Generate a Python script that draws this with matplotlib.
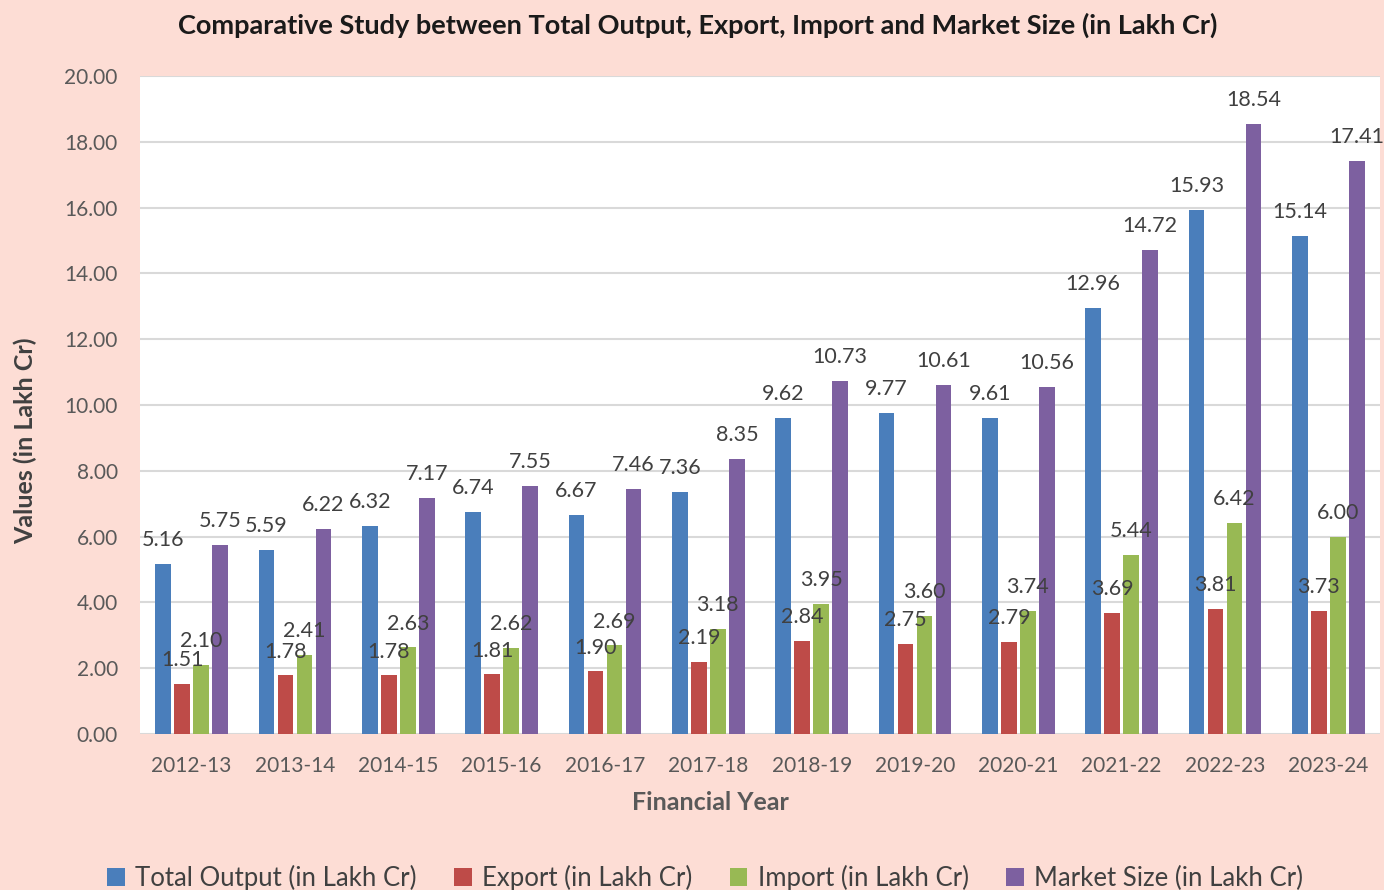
import numpy as np
import matplotlib.pyplot as plt

plt.rcParams['font.family'] = ['Lato', 'DejaVu Sans']

years = ['2012-13', '2013-14', '2014-15', '2015-16', '2016-17', '2017-18',
         '2018-19', '2019-20', '2020-21', '2021-22', '2022-23', '2023-24']
total_output = [5.16, 5.59, 6.32, 6.74, 6.67, 7.36, 9.62, 9.77, 9.61, 12.96, 15.93, 15.14]
export = [1.51, 1.78, 1.78, 1.81, 1.90, 2.19, 2.84, 2.75, 2.79, 3.69, 3.81, 3.73]
imports = [2.10, 2.41, 2.63, 2.62, 2.69, 3.18, 3.95, 3.60, 3.74, 5.44, 6.42, 6.00]
market_size = [5.75, 6.22, 7.17, 7.55, 7.46, 8.35, 10.73, 10.61, 10.56, 14.72, 18.54, 17.41]

series = [
    ('Total Output (in Lakh Cr)', total_output, '#4A7EBB'),
    ('Export (in Lakh Cr)', export, '#BE4B48'),
    ('Import (in Lakh Cr)', imports, '#98B954'),
    ('Market Size (in Lakh Cr)', market_size, '#7D60A0'),
]

bg = '#FDDDD5'
txt = '#404040'

fig = plt.figure(figsize=(13.84, 8.9), dpi=100, facecolor=bg)
ax = fig.add_axes([140 / 1384, 156 / 890, 1240 / 1384, 658 / 890])
ax.set_facecolor('white')

x = np.arange(len(years))
pitch = 0.184
width = 0.15
for i, (name, vals, color) in enumerate(series):
    pos = x + (i - 1.5) * pitch
    ax.bar(pos, vals, width, color=color, label=name, zorder=3)
    for px, v in zip(pos, vals):
        ax.annotate(f'{v:.2f}', (px, v), xytext=(0, 10), textcoords='offset points',
                    ha='center', va='bottom', fontsize=15.5, color=txt,
                    annotation_clip=False, zorder=4)

ax.set_xlim(-0.5, len(years) - 0.5)
ax.set_ylim(0, 20)
ax.set_yticks(np.arange(0, 21, 2))
ax.set_yticklabels([f'{t:.2f}' for t in np.arange(0, 21, 2)])
ax.set_xticks(x)
ax.set_xticklabels(years)
ax.tick_params(axis='both', length=0, labelsize=15, labelcolor='#595959')
ax.tick_params(axis='x', pad=16)
ax.tick_params(axis='y', pad=16)
ax.grid(axis='y', color='#D9D9D9', linewidth=1.5, zorder=0)
for s in ax.spines.values():
    s.set_visible(False)

fig.text(710 / 1384, 1 - 803 / 890, 'Financial Year', ha='center', va='center',
         fontsize=18, fontweight='bold', color='#595959')
fig.text(25 / 1384, 1 - 441 / 890, 'Values (in Lakh Cr)', ha='center', va='center',
         rotation=90, fontsize=18, fontweight='bold', color=txt)

fig.text(698 / 1384, 1 - 25 / 890,
         'Comparative Study between Total Output, Export, Import and Market Size (in Lakh Cr)',
         ha='center', va='center', fontsize=19.5, fontweight='bold', color='#1a1a1a')

fig.legend(loc='center', bbox_to_anchor=(705 / 1384, 0.014), ncol=4, frameon=False,
           fontsize=18.5, handlelength=0.7, handleheight=0.7, handletextpad=0.4,
           columnspacing=1.45, labelcolor=txt)

fig.savefig('out.png', dpi=100, facecolor=bg)
